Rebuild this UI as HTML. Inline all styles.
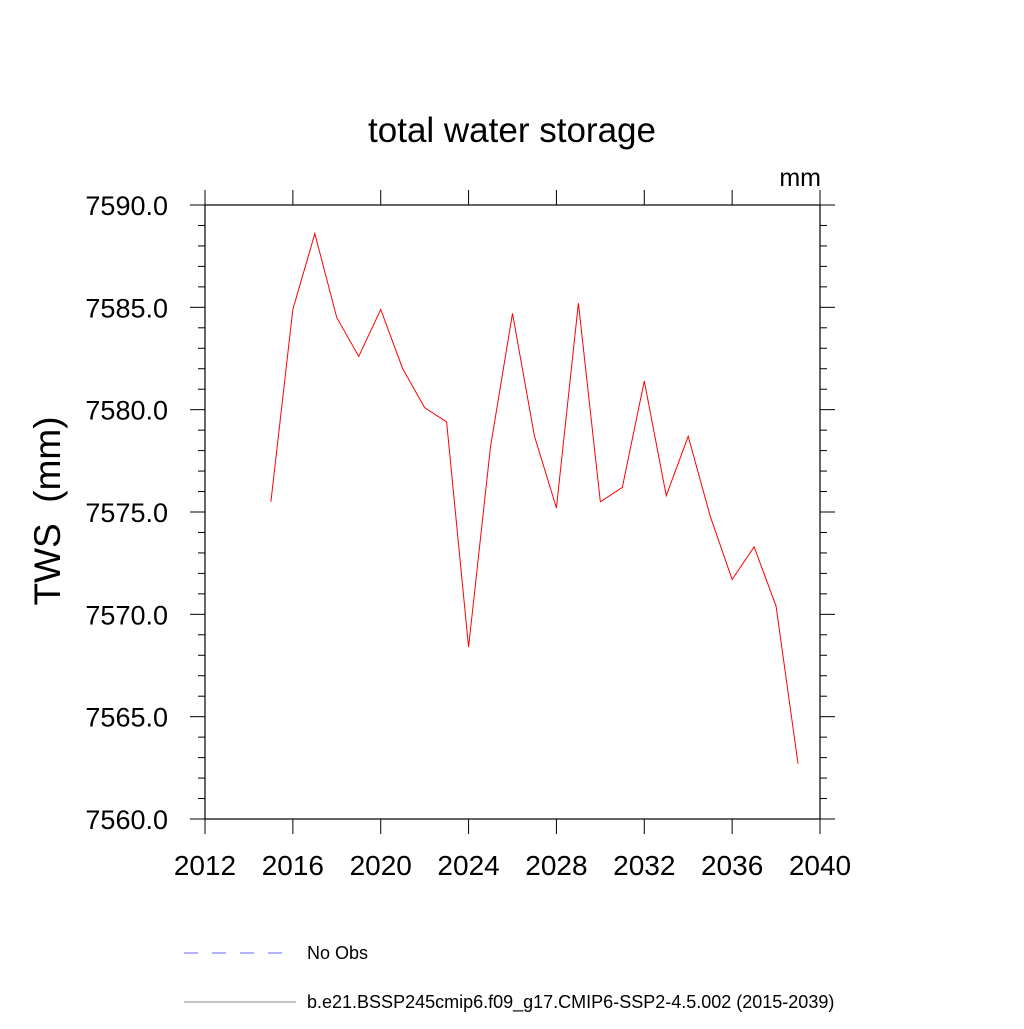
<!DOCTYPE html>
<html><head><meta charset="utf-8"><style>
body{margin:0;background:#fff}
svg text{font-family:"Liberation Sans",sans-serif}
</style></head><body>
<svg id="c" width="1024" height="1024">
<text x="512" y="142" font-size="35" text-anchor="middle">total water storage</text>
<text x="821" y="186" font-size="25" text-anchor="end">mm</text>
<text transform="translate(60,511) rotate(-90)" font-size="37" text-anchor="middle" xml:space="preserve">TWS  (mm)</text>
<g id="axes"></g>
<g>
<line x1="184" y1="953" x2="296" y2="953" stroke="#6666ff" stroke-width="1" stroke-dasharray="14,14"/>
<text x="307" y="959" font-size="18">No Obs</text>
<line x1="184" y1="1002" x2="296" y2="1002" stroke="#888" stroke-width="1"/>
<text x="307" y="1008" font-size="18">b.e21.BSSP245cmip6.f09_g17.CMIP6-SSP2-4.5.002 (2015-2039)</text>
</g>
</svg>
<script>
const years=[2015,2016,2017,2018,2019,2020,2021,2022,2023,2024,2025,2026,2027,2028,2029,2030,2031,2032,2033,2034,2035,2036,2037,2038,2039];
const tws=[7575.5,7584.9,7588.6,7584.5,7582.6,7584.9,7582.0,7580.1,7579.4,7568.4,7578.2,7584.7,7578.7,7575.2,7585.2,7575.5,7576.2,7581.4,7575.8,7578.7,7574.8,7571.7,7573.3,7570.4,7562.7];
const xTicks=[2012,2016,2020,2024,2028,2032,2036,2040];
const yTicks=[7560,7565,7570,7575,7580,7585,7590];
const L=205,R=820,T=205,B=819;
const X=v=>L+(v-2012)/(2040-2012)*(R-L);
const Y=v=>B-(v-7560)/(7590-7560)*(B-T);
const ns="http://www.w3.org/2000/svg",g=document.getElementById('axes');
function mk(t,a){const e=document.createElementNS(ns,t);for(const k in a)e.setAttribute(k,a[k]);g.appendChild(e);return e;}
let e=mk('rect',{x:L,y:T,width:R-L,height:B-T,fill:'none',stroke:'#000','stroke-width':1.2});


for(let v=7560;v<=7590;v++){const maj=v%5==0;const len=maj?15:7;const y=Y(v);
 mk('line',{x1:L-len,y1:y,x2:L,y2:y,stroke:'#000','stroke-width':1});
 mk('line',{x1:R,y1:y,x2:R+len,y2:y,stroke:'#000','stroke-width':1});}
yTicks.forEach(v=>{const t=mk('text',{x:L-37,y:Y(v)+10,'font-size':27,'text-anchor':'end'});t.textContent=v.toFixed(1);
 
 });
xTicks.forEach(v=>{const x=X(v);
 mk('line',{x1:x,y1:B,x2:x,y2:B+15,stroke:'#000','stroke-width':1});
 mk('line',{x1:x,y1:T-15,x2:x,y2:T,stroke:'#000','stroke-width':1});
 const t=mk('text',{x:x,y:B+56,'font-size':28,'text-anchor':'middle'});t.textContent=v;
 
 });
const p=mk('polyline',{points:years.map((y,i)=>X(y)+','+Y(tws[i])).join(' '),fill:'none',stroke:'#ff0000','stroke-width':1});


</script>
</body></html>
